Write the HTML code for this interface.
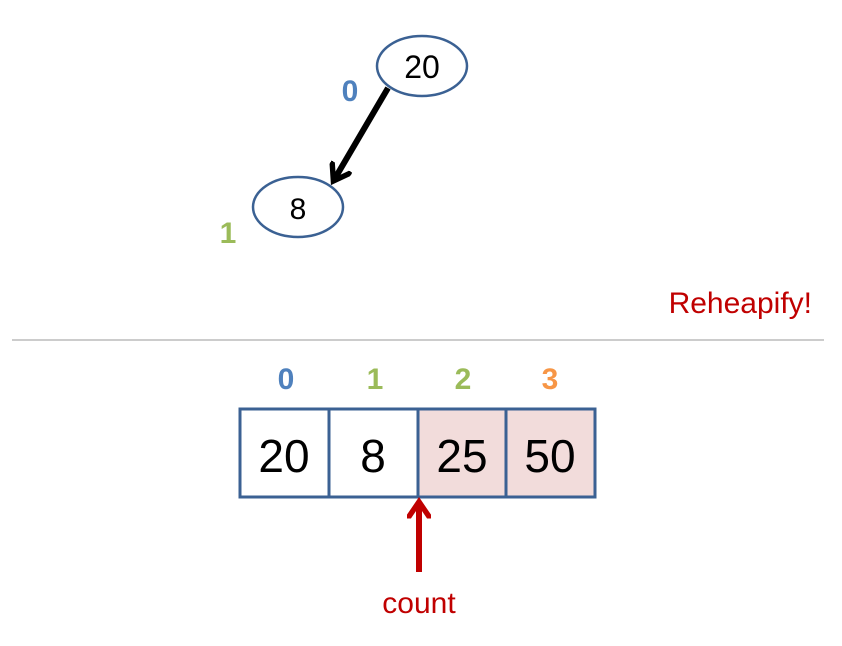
<!DOCTYPE html>
<html><head><meta charset="utf-8"><style>
body{margin:0;background:#fff;}
text{font-family:"Liberation Sans",sans-serif;}
</style></head><body>
<svg width="842" height="641" viewBox="0 0 842 641">
<defs>
<marker id="ah" markerWidth="4" markerHeight="4" refX="2.6" refY="2" orient="auto" markerUnits="strokeWidth">
<path d="M0.3,0.3 L2.8,2 L0.3,3.7" fill="none" stroke="#000" stroke-width="0.9" stroke-linecap="round"/>
</marker>
<marker id="ahr" markerWidth="4" markerHeight="4" refX="2.6" refY="2" orient="auto" markerUnits="strokeWidth">
<path d="M0.3,0.3 L2.8,2 L0.3,3.7" fill="none" stroke="#c00000" stroke-width="0.9" stroke-linecap="round"/>
</marker>
</defs>
<g>
<line x1="388" y1="88" x2="334" y2="180" stroke="#000" stroke-width="6" marker-end="url(#ah)"/>
</g>
<g>
<ellipse cx="422" cy="66" rx="45" ry="30" fill="#fff" stroke="#3b6193" stroke-width="2.5"/>
<text x="422" y="78" font-size="32" text-anchor="middle">20</text>
</g>
<g>
<ellipse cx="298" cy="207" rx="45" ry="30" fill="#fff" stroke="#3b6193" stroke-width="2.5"/>
<text x="298" y="219" font-size="30" text-anchor="middle">8</text>
</g>
<text x="350" y="101" font-size="30" font-weight="bold" fill="#4f81bd" text-anchor="middle">0</text>
<text x="228" y="243" font-size="30" font-weight="bold" fill="#9bbb59" text-anchor="middle">1</text>
<text x="812" y="313" font-size="30" fill="#c00000" text-anchor="end">Reheapify!</text>
<line x1="12" y1="340" x2="824" y2="340" stroke="#999" stroke-width="1"/>
<g>
<rect x="418" y="409" width="177" height="88" fill="#f2dcdb"/>
<rect x="240" y="409" width="355" height="88" fill="none" stroke="#3b6193" stroke-width="3"/>
<line x1="329" y1="409" x2="329" y2="497" stroke="#3b6193" stroke-width="3"/>
<line x1="418" y1="409" x2="418" y2="497" stroke="#3b6193" stroke-width="3"/>
<line x1="506" y1="409" x2="506" y2="497" stroke="#3b6193" stroke-width="3"/>
<text x="284" y="472" font-size="46" text-anchor="middle">20</text>
<text x="373" y="472" font-size="46" text-anchor="middle">8</text>
<text x="462" y="472" font-size="46" text-anchor="middle">25</text>
<text x="550" y="472" font-size="46" text-anchor="middle">50</text>
</g>
<g font-size="30" font-weight="bold" text-anchor="middle">
<text x="286" y="389" fill="#4f81bd">0</text>
<text x="375" y="389" fill="#9bbb59">1</text>
<text x="463" y="389" fill="#9bbb59">2</text>
<text x="550" y="389" fill="#f79646">3</text>
</g>
<g>
<line x1="419" y1="572" x2="419" y2="503" stroke="#c00000" stroke-width="6" marker-end="url(#ahr)"/>
</g>
<text x="419" y="613" font-size="30" fill="#c00000" text-anchor="middle">count</text>
</svg>
</body></html>
